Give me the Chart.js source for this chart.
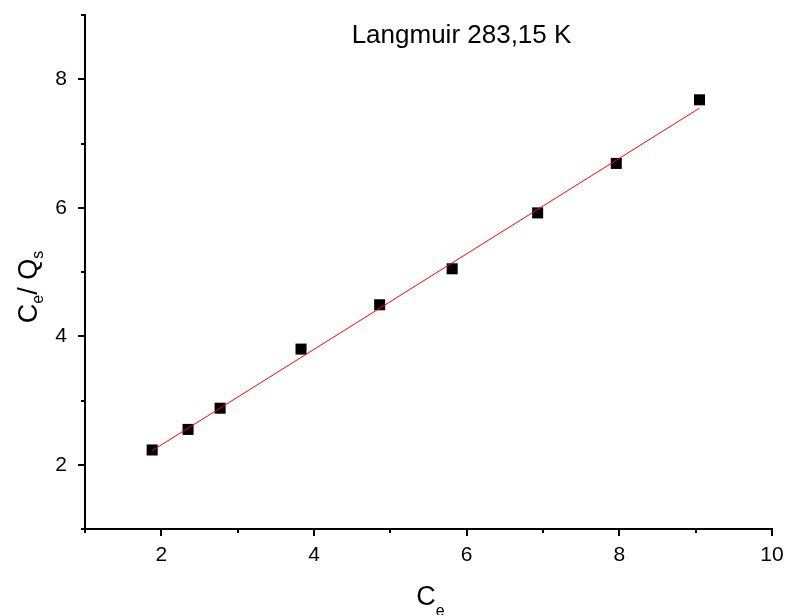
<!DOCTYPE html>
<html>
<head>
<meta charset="utf-8">
<script src="https://cdn.jsdelivr.net/npm/chart.js@4"></script>
<style>
  body { margin: 0; background: #fff; }
  #langmuir { display: block; }
</style>
</head>
<body>
<canvas id="langmuir" width="787" height="615"></canvas>
<script>
// measured points: Ce vs Ce/Qs
const ceValues = [1.88, 2.35, 2.77, 3.83, 4.86, 5.81, 6.93, 7.96, 9.05];
const cqValues = [2.23, 2.55, 2.88, 3.80, 4.49, 5.05, 5.92, 6.69, 7.68];

// linear fit ends
const fitX = [1.88, 9.05];
const fitY = [2.22, 7.55];

const titleText = 'Langmuir 283,15 K';
const xRange = [1, 10];
const yRange = [1, 9];
const labelStep = 2;

const FONT = '"Liberation Sans", Arial, sans-serif';

const pts = ceValues.map((x, i) => ({ x: x, y: cqValues[i] }));
const fit = fitX.map((x, i) => ({ x: x, y: fitY[i] }));

// axis ticks: long on labelled values, short in between
const tickMarks = {
    id: 'tickMarks',
    afterDraw(chart) {
        const ctx = chart.ctx;
        const xs = chart.scales.x, ys = chart.scales.y;
        ctx.save();
        ctx.strokeStyle = '#000';
        ctx.lineWidth = 2;
        ctx.beginPath();
        xs.ticks.forEach(t => {
            const px = Math.round(xs.getPixelForValue(t.value));
            const len = t.value % labelStep === 0 ? 7 : 4;
            ctx.moveTo(px, ys.bottom);
            ctx.lineTo(px, ys.bottom + len);
        });
        ys.ticks.forEach(t => {
            const py = Math.round(ys.getPixelForValue(t.value));
            const len = t.value % labelStep === 0 ? 7 : 4;
            ctx.moveTo(xs.left, py);
            ctx.lineTo(xs.left - len, py);
        });
        ctx.stroke();
        ctx.restore();
    }
};

// text with subscripts: parts = [[text, isSub], ...]
function drawSubText(ctx, parts, x, y, size, subSize, subShift) {
    let total = 0;
    const widths = parts.map(p => {
        ctx.font = (p[1] ? subSize : size) + 'px ' + FONT;
        const w = ctx.measureText(p[0]).width;
        total += w;
        return w;
    });
    let cx = x - total / 2;
    parts.forEach((p, i) => {
        ctx.font = (p[1] ? subSize : size) + 'px ' + FONT;
        ctx.fillText(p[0], cx, p[1] ? y + subShift : y);
        cx += widths[i];
    });
}

const labels = {
    id: 'labels',
    afterDraw(chart) {
        const ctx = chart.ctx;
        const area = chart.chartArea;
        ctx.save();
        ctx.fillStyle = '#000';
        ctx.textBaseline = 'alphabetic';
        ctx.textAlign = 'left';

        // title inside plot
        ctx.font = '26px ' + FONT;
        ctx.textAlign = 'center';
        ctx.fillText(titleText, (area.left + area.right) / 2 + 33, area.top + 28);
        ctx.textAlign = 'left';

        // x axis title
        drawSubText(ctx, [['C', false], ['e', true]],
            (area.left + area.right) / 2 + 2, 605, 27, 16, 11);

        // y axis title
        ctx.save();
        ctx.translate(37, 287);
        ctx.rotate(-Math.PI / 2);
        drawSubText(ctx, [['C', false], ['e', true], ['/ Q', false], ['s', true]],
            0, 0, 27, 16, 6);
        ctx.restore();

        ctx.restore();
    }
};

new Chart(document.getElementById('langmuir'), {
    type: 'scatter',
    data: {
        datasets: [{
            label: 'fit',
            data: fit,
            showLine: true,
            borderColor: '#ff0000',
            borderWidth: 1,
            pointRadius: 0,
            fill: false
        }, {
            label: 'Ce/Qs',
            data: pts,
            pointStyle: 'rect',
            pointRadius: 7.8,
            pointBackgroundColor: '#000',
            pointBorderWidth: 0,
            showLine: false
        }]
    },
    options: {
        responsive: false,
        animation: false,
        layout: { padding: { top: 15, right: 15, left: 0, bottom: 0 } },
        plugins: {
            legend: { display: false },
            tooltip: { enabled: false },
            title: { display: false }
        },
        scales: {
            x: {
                type: 'linear',
                min: xRange[0],
                max: xRange[1],
                grid: { display: false, drawTicks: false },
                border: { display: true, color: '#000', width: 2 },
                afterFit(scale) {
                    scale.height = 86;
                    scale.paddingLeft = 0;
                    scale.paddingRight = 0;
                },
                ticks: {
                    stepSize: 1,
                    autoSkip: false,
                    maxRotation: 0,
                    padding: 14,
                    color: '#000',
                    font: { family: FONT, size: 21 },
                    callback: v => (v % labelStep === 0 ? String(v) : '')
                }
            },
            y: {
                type: 'linear',
                min: yRange[0],
                max: yRange[1],
                grid: { display: false, drawTicks: false },
                border: { display: true, color: '#000', width: 2 },
                afterFit(scale) {
                    scale.width = 85;
                    scale.paddingTop = 0;
                    scale.paddingBottom = 0;
                },
                ticks: {
                    stepSize: 1,
                    autoSkip: false,
                    padding: 18,
                    color: '#000',
                    font: { family: FONT, size: 21 },
                    callback: v => (v % labelStep === 0 ? String(v) : '')
                }
            }
        }
    },
    plugins: [tickMarks, labels]
});
</script>
</body>
</html>
